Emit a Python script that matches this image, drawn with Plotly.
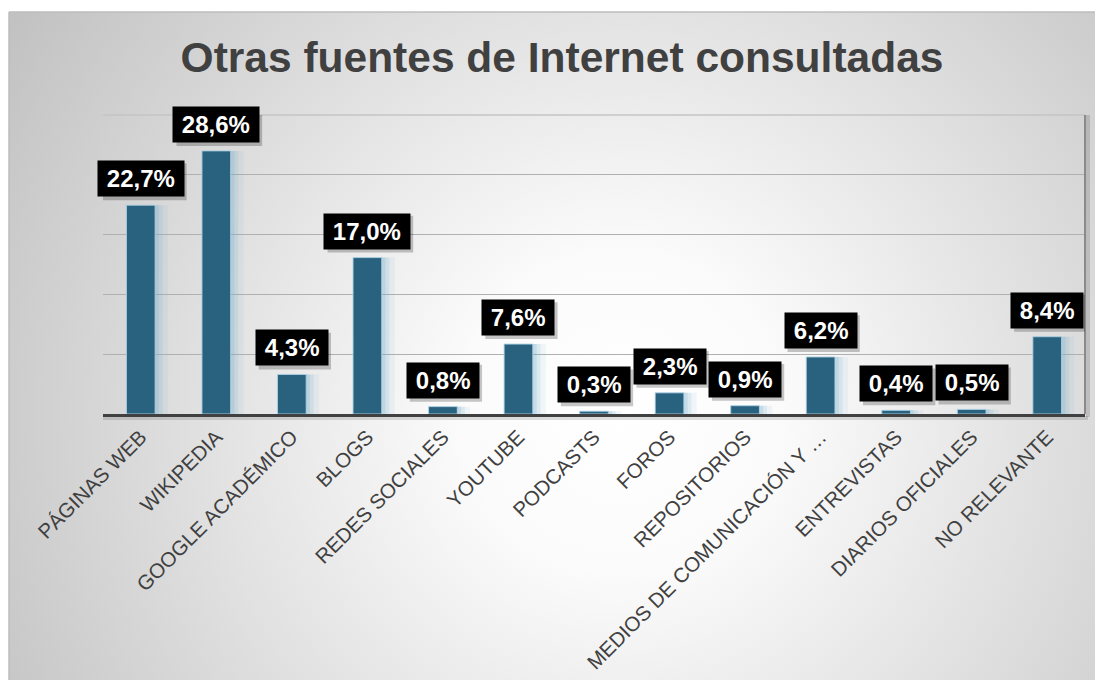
import base64
import plotly.graph_objects as go

# ---------------- data ----------------
categories = [
    "PÁGINAS WEB", "WIKIPEDIA", "GOOGLE ACADÉMICO", "BLOGS", "REDES SOCIALES",
    "YOUTUBE", "PODCASTS", "FOROS", "REPOSITORIOS",
    "MEDIOS DE COMUNICACIÓN Y …", "ENTREVISTAS", "DIARIOS OFICIALES", "NO RELEVANTE",
]
values = [22.7, 28.6, 4.3, 17.0, 0.8, 7.6, 0.3, 2.3, 0.9, 6.2, 0.4, 0.5, 8.4]
value_labels = [f"{v:.1f}%".replace(".", ",") for v in values]
title_text = "Otras fuentes de Internet consultadas"

# ---------------- layout constants (figure pixels; page adds 8px body margin) ----------------
W, H = 1103, 680
ML, MR, MT, MB = 95, 26, 107, 274
PW, PH = W - ML - MR, H - MT - MB
FONT = "Liberation Sans, Arial, sans-serif"
LABEL_SIZE = 24
LABEL_PAD = 4
THIN = "\u2009"


def px_to_paper_x(px):
    return (px - ML) / PW


def px_to_paper_y(py):
    return (H - MB - py) / PH


# approximate text width for label shadow boxes (Arial bold metrics)
CW = {",": 0.278, "%": 0.889}


def label_box_width(t):
    em = sum(CW.get(ch, 0.556) for ch in t) + 0.4
    return em * LABEL_SIZE + 2 * LABEL_PAD


# radial-gradient background panel (as inline SVG image)
panel_x0, panel_y0 = 1, 4
pw_, ph_ = W - panel_x0 + 10, H - panel_y0 + 10
svg = (
    f'<svg xmlns="http://www.w3.org/2000/svg" width="{pw_}" height="{ph_}">'
    '<defs><radialGradient id="g" gradientUnits="userSpaceOnUse" '
    f'cx="{612 - panel_x0}" cy="{405 - panel_y0}" r="720">'
    '<stop offset="0" stop-color="#ffffff"/>'
    '<stop offset="0.22" stop-color="#fbfbfb"/>'
    '<stop offset="1" stop-color="#c2c2c2"/>'
    '</radialGradient></defs>'
    f'<rect width="{pw_}" height="{ph_}" fill="url(#g)"/></svg>'
)
svg_uri = "data:image/svg+xml;base64," + base64.b64encode(svg.encode()).decode()

fig = go.Figure()

# soft glow to the right of bars
for w, a in [(0.55, 0.10), (0.48, 0.16), (0.43, 0.22)]:
    fig.add_trace(go.Bar(
        x=categories, y=values, width=w, offset=-0.19,
        marker=dict(color=f"rgba(120,175,205,{a})", line=dict(width=0)),
        hoverinfo="skip", showlegend=False,
    ))

# main bars
fig.add_trace(go.Bar(
    x=categories, y=values, width=0.38, offset=-0.19,
    marker=dict(color="#29627f", line=dict(color="rgba(175,210,228,0.9)", width=1)),
    showlegend=False,
))

# data labels: black boxes with white bold text
annotations = []
for c, v, t in zip(categories, values, value_labels):
    annotations.append(dict(
        x=c, y=v, xref="x", yref="y", yanchor="bottom", showarrow=False,
        yshift=8,
        text="<b>" + THIN + t + THIN + "</b>",
        font=dict(family=FONT, size=LABEL_SIZE, color="#ffffff"),
        bgcolor="#000000", borderpad=LABEL_PAD,
    ))

shapes = [
    # panel border (top and left edges)
    dict(type="line", xref="paper", yref="paper",
         x0=px_to_paper_x(panel_x0), x1=px_to_paper_x(W + 5),
         y0=px_to_paper_y(panel_y0), y1=px_to_paper_y(panel_y0),
         line=dict(color="#bdbdbd", width=1.5), layer="below"),
    dict(type="line", xref="paper", yref="paper",
         x0=px_to_paper_x(panel_x0), x1=px_to_paper_x(panel_x0),
         y0=px_to_paper_y(panel_y0), y1=px_to_paper_y(H + 5),
         line=dict(color="#bdbdbd", width=1.5), layer="below"),
    # top gridline of the back wall
    dict(type="line", xref="paper", yref="paper",
         x0=0, x1=1, y0=1, y1=1,
         line=dict(color="#c4c4c4", width=1.5), layer="below"),
    # floor shadow
    dict(type="line", xref="paper", yref="paper",
         x0=0, x1=1 + 3 / PW, y0=-4 / PH, y1=-4 / PH,
         line=dict(color="rgba(0,0,0,0.13)", width=4), layer="below"),
    # right wall shadow and line
    dict(type="line", xref="paper", yref="paper",
         x0=1 + 3 / PW, x1=1 + 3 / PW, y0=-3 / PH, y1=1,
         line=dict(color="rgba(0,0,0,0.13)", width=4), layer="below"),
    dict(type="line", xref="paper", yref="paper",
         x0=1, x1=1, y0=0, y1=1,
         line=dict(color="#8a8a8a", width=2), layer="above"),
]

# drop shadows of the label boxes (anchored to each data point)
box_h = LABEL_SIZE * 1.2 + 2 * LABEL_PAD
for i, (v, t) in enumerate(zip(values, value_labels)):
    bw = label_box_width(t)
    shapes.append(dict(
        type="rect", xref="x", yref="y",
        xsizemode="pixel", ysizemode="pixel", xanchor=i, yanchor=v,
        x0=-bw / 2 + 3, x1=bw / 2 + 3, y0=8 - 3, y1=8 - 3 + box_h,
        fillcolor="rgba(0,0,0,0.22)", line=dict(width=0), layer="above",
    ))

fig.update_layout(
    width=W, height=H,
    margin=dict(l=ML, r=MR, t=MT, b=MB, autoexpand=False),
    paper_bgcolor="#ffffff",
    plot_bgcolor="rgba(255,255,255,0.18)",
    barmode="overlay",
    showlegend=False,
    title=dict(
        text="<b>" + title_text + "</b>",
        font=dict(family=FONT, size=42.5, color="#404040"),
        x=554 / W, xanchor="center", xref="container",
        y=1 - 49 / H, yanchor="middle", yref="container",
    ),
    xaxis=dict(
        type="category", categoryorder="array", categoryarray=categories,
        tickangle=-45, tickfont=dict(family=FONT, size=20.5, color="#404040"),
        showline=True, linecolor="#404040", linewidth=3,
        ticks="", showgrid=False, automargin=False,
        range=[-0.5, len(categories) - 0.5],
    ),
    yaxis=dict(
        range=[0, 32.5], dtick=6.5, tick0=0,
        showticklabels=False, showgrid=True, gridcolor="#b0b0b0", gridwidth=1,
        zeroline=False, showline=False, automargin=False,
    ),
    annotations=annotations,
    shapes=shapes,
    images=[dict(
        source=svg_uri, xref="paper", yref="paper",
        x=px_to_paper_x(panel_x0), y=px_to_paper_y(panel_y0),
        sizex=pw_ / PW, sizey=ph_ / PH,
        xanchor="left", yanchor="top", sizing="stretch", layer="below",
    )],
)

fig.write_html("out.html")
